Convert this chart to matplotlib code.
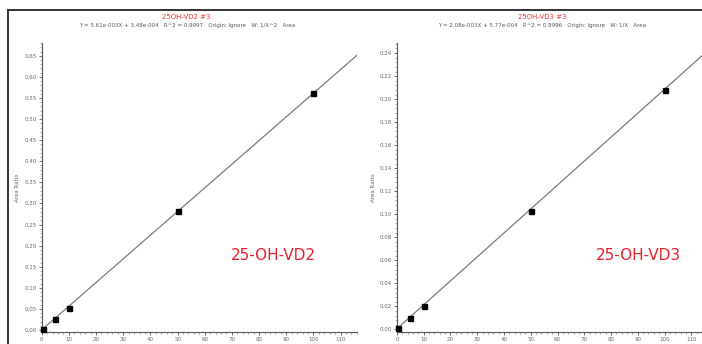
import numpy as np
import matplotlib.pyplot as plt
from matplotlib.lines import Line2D
from matplotlib.ticker import MultipleLocator

# calibration levels (ng/mL) and measured area ratios
conc = [0.5, 5, 10, 50, 100]
ratio_vd2 = [0.003, 0.025, 0.051, 0.281, 0.562]
ratio_vd3 = [0.0015, 0.0095, 0.0205, 0.103, 0.208]

# fitted curves
slope_vd2, icpt_vd2 = 5.61e-3, 3.48e-4
slope_vd3, icpt_vd3 = 2.08e-3, 5.77e-4

titles = ["25OH-VD2 #3", "25OH-VD3 #3"]
equations = ["Y = 5.61e-003X + 3.48e-004   R^2 = 0.9997   Origin: Ignore   W: 1/X^2   Area",
             "Y = 2.08e-003X + 5.77e-004   R^2 = 0.9996   Origin: Ignore   W: 1/X   Area"]
names = ["25-OH-VD2", "25-OH-VD3"]

fig = plt.figure(figsize=(7.02, 3.44), dpi=100)

# outer frame around both plots
fig.add_artist(Line2D([0.0114, 1.0], [0.971, 0.971], color="#333333", lw=1.4))
fig.add_artist(Line2D([0.0114, 0.0114], [0.0, 0.971], color="#333333", lw=1.4))

ax1 = fig.add_axes([0.0594, 0.0358, 0.449, 0.840])
ax2 = fig.add_axes([0.5655, 0.0358, 0.4345, 0.840])

setups = [
    (ax1, ratio_vd2, slope_vd2, icpt_vd2, (0, 116), (-0.004, 0.681), 0.05, 0.01, 0.46, 0.60),
    (ax2, ratio_vd3, slope_vd3, icpt_vd3, (0, 114), (-0.002, 0.249), 0.02, 0.004, 0.475, 0.653),
]

for i, (ax, ratio, m, b, xl, yl, ymaj, ymin, tx, nx) in enumerate(setups):
    xs = np.array(xl)
    ax.plot(xs, m * xs + b, color="#7a7a7a", lw=0.9, zorder=2)
    ax.plot(conc, ratio, "s", color="black", ms=3.6, zorder=3, clip_on=False)
    ax.set_xlim(xl)
    ax.set_ylim(yl)
    ax.xaxis.set_major_locator(MultipleLocator(10))
    ax.xaxis.set_minor_locator(MultipleLocator(2))
    ax.yaxis.set_major_locator(MultipleLocator(ymaj))
    ax.yaxis.set_minor_locator(MultipleLocator(ymin))
    ax.yaxis.set_major_formatter(plt.FuncFormatter(lambda v, p: f"{v:.2f}"))
    ax.spines["top"].set_visible(False)
    ax.spines["right"].set_visible(False)
    for s in ["left", "bottom"]:
        ax.spines[s].set_color("#555555")
        ax.spines[s].set_linewidth(0.8)
    ax.tick_params(which="major", length=2.5, width=0.6, labelsize=4, pad=1,
                   colors="#555555", labelcolor="#666666")
    ax.tick_params(which="minor", length=1.5, width=0.5, colors="#888888")
    ax.set_ylabel("Area Ratio", fontsize=4, color="#666666", labelpad=3)
    ax.text(tx, 1.089, titles[i], transform=ax.transAxes, ha="center", va="center",
            fontsize=5, color="#ee3333")
    ax.text(tx, 1.058, equations[i], transform=ax.transAxes, ha="center", va="center",
            fontsize=4, color="#555555")
    ax.text(nx, 0.265, names[i], transform=ax.transAxes,
            ha="left", va="center", fontsize=11, color="#e8202a")

plt.savefig("out.png", dpi=100)
